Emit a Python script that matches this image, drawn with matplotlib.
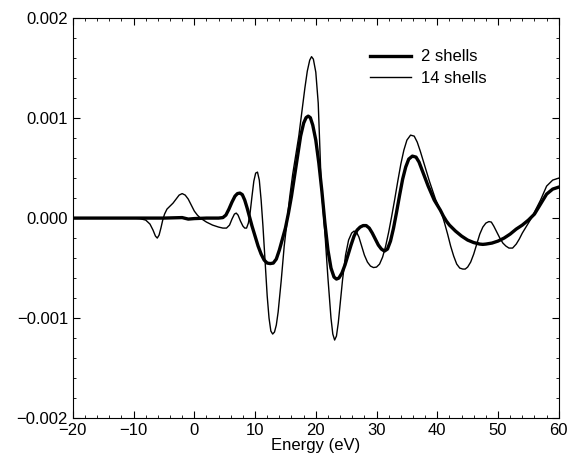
import matplotlib
matplotlib.use("Agg")
import matplotlib.pyplot as plt
import numpy as np
from matplotlib.ticker import MultipleLocator, FuncFormatter

plt.rcParams["font.family"] = ["Liberation Sans", "DejaVu Sans"]

# values, y in units of 1e-3
x_two = [-20, -15, -10, -5, -2, -1, 0, 2, 4, 4.7, 5.2, 5.7, 6.2, 6.7, 7.1, 7.5, 7.9,
         8.3, 8.7, 9.1, 9.5, 10, 10.5, 11, 11.5, 12, 12.5, 13, 13.5, 14, 14.5, 15,
         15.5, 16, 16.5, 17, 17.5, 18, 18.4, 18.75, 19.1, 19.5, 20, 20.5, 21, 21.5,
         22, 22.5, 23, 23.4, 23.8, 24.3, 24.8, 25.3, 25.8, 26.3, 26.8, 27.3, 27.8,
         28.3, 28.8, 29.3, 29.8, 30.3, 30.8, 31.3, 31.8, 32.3, 32.8, 33.3, 33.8,
         34.3, 34.8, 35.3, 35.9, 36.5, 37, 37.5, 38, 38.5, 39, 39.5, 40, 40.5, 41,
         41.5, 42, 43, 44, 45, 46, 47, 47.5, 48, 49, 50, 51, 52, 53, 54, 55, 56, 57,
         58, 59, 60]
y_two = [0, 0, 0, 0, 0.005, -0.01, -0.005, 0, 0, 0.005, 0.03, 0.09, 0.16, 0.22, 0.245,
         0.25, 0.235, 0.18, 0.10, 0.01, -0.08, -0.18, -0.28, -0.36, -0.42, -0.45,
         -0.455, -0.45, -0.41, -0.32, -0.21, -0.10, 0.05, 0.22, 0.42, 0.62, 0.82, 0.95,
         1.005, 1.02, 1.005, 0.93, 0.78, 0.55, 0.27, -0.05, -0.32, -0.50, -0.59, -0.61,
         -0.60, -0.55, -0.47, -0.37, -0.27, -0.18, -0.12, -0.09, -0.075, -0.075, -0.10,
         -0.15, -0.21, -0.27, -0.31, -0.33, -0.31, -0.23, -0.10, 0.06, 0.23, 0.39,
         0.51, 0.59, 0.62, 0.61, 0.56, 0.48, 0.40, 0.32, 0.25, 0.18, 0.13, 0.08, 0.02,
         -0.03, -0.07, -0.13, -0.18, -0.22, -0.245, -0.26, -0.263, -0.26, -0.25,
         -0.23, -0.20, -0.16, -0.11, -0.07, -0.02, 0.04, 0.14, 0.24, 0.29, 0.31]

x_fourteen = [-20, -10, -9, -8, -7.3, -6.8, -6.4, -6.1, -5.8, -5.5, -5.2, -4.9, -4.5,
              -4, -3.5, -3, -2.5, -2, -1.5, -1, -0.5, 0, 0.5, 1, 1.5, 2, 3, 4, 4.7,
              5.3, 5.8, 6.2, 6.6, 6.9, 7.2, 7.6, 8, 8.3, 8.6, 8.9, 9.2, 9.5, 9.8, 10.1,
              10.4, 10.7, 11, 11.3, 11.6, 12, 12.3, 12.6, 12.9, 13.2, 13.5, 13.8, 14.3,
              14.8, 15.2, 15.7, 16.2, 16.7, 17.2, 17.7, 18.2, 18.6, 19, 19.3, 19.6, 20,
              20.4, 20.9, 21.5, 22, 22.5, 22.8, 23.1, 23.4, 23.7, 24, 24.4, 24.9, 25.4,
              25.9, 26.3, 26.7, 27.1, 27.5, 28, 28.5, 29, 29.5, 30, 30.5, 31, 31.5, 32,
              32.5, 33, 33.5, 34, 34.5, 35, 35.6, 36.2, 36.7, 37.2, 37.7, 38.2, 38.7,
              39.2, 39.7, 40.2, 40.7, 41.2, 41.7, 42.2, 42.7, 43.2, 43.7, 44.2, 44.6,
              45, 45.5, 46, 46.5, 47, 47.5, 48, 48.5, 48.9, 49.3, 49.8, 50.3, 50.8,
              51.3, 51.8, 52.4, 53, 53.5, 54, 54.5, 55, 55.5, 56, 56.5, 57, 57.5, 58,
              58.5, 59, 59.5, 60]
y_fourteen = [0, 0, -0.005, -0.02, -0.06, -0.12, -0.18, -0.20, -0.17, -0.10, -0.02, 0.04,
              0.09, 0.12, 0.15, 0.19, 0.23, 0.245, 0.23, 0.19, 0.13, 0.07, 0.03, 0.0,
              -0.02, -0.04, -0.07, -0.09, -0.10, -0.10, -0.07, -0.01, 0.04, 0.05, 0.03,
              -0.03, -0.08, -0.10, -0.10, -0.05, 0.06, 0.22, 0.37, 0.45, 0.46, 0.38,
              0.18, -0.08, -0.38, -0.78, -1.00, -1.13, -1.16, -1.14, -1.07, -0.94, -0.63,
              -0.28, -0.07, 0.21, 0.44, 0.63, 0.82, 1.06, 1.30, 1.47, 1.58, 1.615, 1.59,
              1.46, 1.15, 0.32, -0.15, -0.60, -1.00, -1.16, -1.22, -1.18, -1.05, -0.87,
              -0.62, -0.37, -0.22, -0.15, -0.13, -0.14, -0.19, -0.27, -0.37, -0.44,
              -0.48, -0.495, -0.49, -0.46, -0.39, -0.28, -0.14, 0.02, 0.19, 0.37, 0.54,
              0.68, 0.78, 0.83, 0.82, 0.76, 0.67, 0.57, 0.47, 0.37, 0.28, 0.19, 0.12,
              0.05, -0.05, -0.16, -0.28, -0.38, -0.46, -0.50, -0.51, -0.51, -0.49,
              -0.44, -0.36, -0.26, -0.16, -0.09, -0.05, -0.035, -0.04, -0.08, -0.14,
              -0.20, -0.25, -0.28, -0.30, -0.30, -0.26, -0.21, -0.15, -0.10, -0.05, 0.0,
              0.06, 0.12, 0.18, 0.25, 0.32, 0.35, 0.38, 0.39, 0.40]

fig = plt.figure(figsize=(5.69, 4.66), dpi=100)
ax = fig.add_axes([0.128, 0.103, 0.854, 0.858])

ax.plot(x_two, np.array(y_two) * 1e-3, color="black", lw=2.4, label="2 shells")
ax.plot(x_fourteen, np.array(y_fourteen) * 1e-3, color="black", lw=1.0, label="14 shells")

ax.set_xlim(-20, 60)
ax.set_ylim(-0.002, 0.002)
ax.xaxis.set_major_locator(MultipleLocator(10))
ax.xaxis.set_minor_locator(MultipleLocator(2))
ax.yaxis.set_major_locator(MultipleLocator(0.001))
ax.yaxis.set_minor_locator(MultipleLocator(0.0002))
ax.yaxis.set_major_formatter(FuncFormatter(lambda v, p: f"{v:.3f}".replace("-", "\u2212")))
ax.tick_params(which="both", direction="in", top=True, right=True, labelsize=12)
ax.tick_params(which="major", length=5)
ax.tick_params(which="minor", length=2.5)
ax.set_xlabel("Energy (eV)", fontsize=12, labelpad=0)

ax.legend(loc="upper left", bbox_to_anchor=(0.612, 0.922), frameon=False,
          fontsize=12, handlelength=2.45, borderpad=0, borderaxespad=0,
          labelspacing=0.38, handletextpad=0.6)

fig.savefig("out.png", dpi=100)
